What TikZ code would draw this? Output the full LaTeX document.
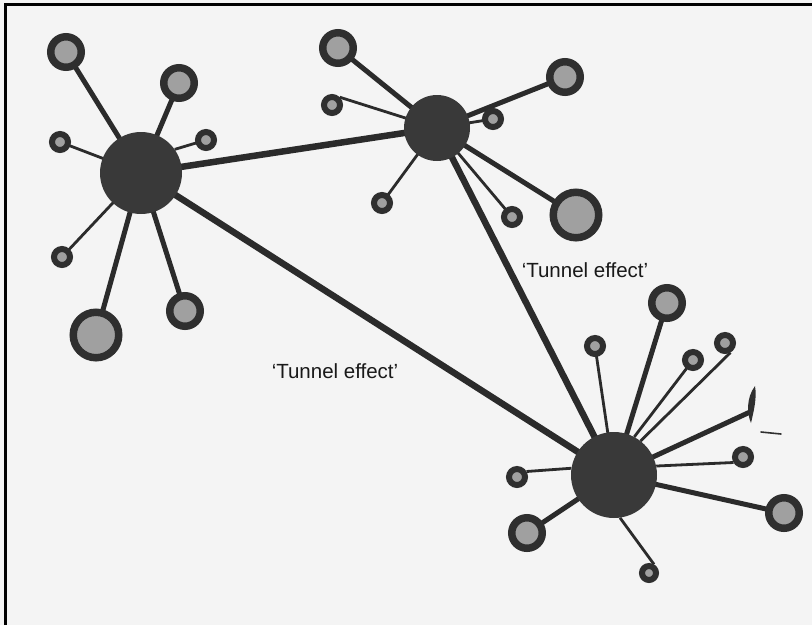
\documentclass[tikz,border=0pt]{standalone}
\usepackage{fontspec}
\setmainfont{Liberation Sans}
\pgfdeclarelayer{bg}
\pgfdeclarelayer{spokes}
\pgfsetlayers{bg,spokes,main}
\definecolor{paper}{HTML}{F4F4F4}
\definecolor{hubc}{HTML}{393939}
\definecolor{ringc}{HTML}{2F2F2F}
\definecolor{dotc}{HTML}{A0A0A0}
\definecolor{linec}{HTML}{2B2B2B}
\tikzset{
  hub/.style={circle, fill=hubc, draw=none, inner sep=0pt, minimum size=#1},
  satbig/.style={circle, draw=ringc, fill=dotc, line width=7.5pt, inner sep=0pt, minimum size=30.5pt},
  satlarge/.style={circle, draw=ringc, fill=dotc, line width=7.5pt, inner sep=0pt, minimum size=45.5pt},
  satsmall/.style={circle, draw=ringc, fill=dotc, line width=6pt, inner sep=0pt, minimum size=16pt},
  tunnel/.style={draw=linec, line width=6.5pt},
  medspoke/.style={draw=linec, line width=5pt},
  thinspoke/.style={draw=linec, line width=2.8pt},
  lbl/.style={font=\fontsize{20.5}{24}\selectfont, text=black!90, inner sep=0pt}
}
\begin{document}
\begin{tikzpicture}[x=1pt,y=-1pt]
\begin{pgfonlayer}{bg}
\fill[paper] (0,0) rectangle (812,625);
\useasboundingbox (0,0) rectangle (812,625);
\draw[line width=3pt, black] (5,625) -- (5,4) -- (812,4);
\end{pgfonlayer}

% hubs
\node[hub=82pt] (A) at (141,173) {};
\node[hub=66pt] (B) at (437,128) {};
\node[hub=86pt] (C) at (614,475) {};

% satellites of A
\node[satbig] (a1) at (66,52) {};
\node[satbig] (a2) at (179,83) {};
\node[satsmall] (a3) at (60,142) {};
\node[satsmall] (a4) at (206,140) {};
\node[satsmall] (a5) at (62,257) {};
\node[satlarge] (a6) at (96,335) {};
\node[satbig] (a7) at (185,311) {};

% satellites of B
\node[satbig] (b1) at (338,48) {};
\node[satsmall] (b2) at (332,105) {};
\node[satbig] (b3) at (565,77) {};
\node[satsmall] (b4) at (493,119) {};
\node[satsmall] (b5) at (382,203) {};
\node[satsmall] (b6) at (512,217) {};
\node[satlarge] (b7) at (576,215) {};

% satellites of C
\node[satbig] (c1) at (667,303) {};
\node[satsmall] (c2) at (595,346) {};
\node[satsmall] (c3) at (693,360) {};
\node[satsmall] (c4) at (725,343) {};
\coordinate (c5) at (750,412);
\node[satsmall] (c6) at (743,457) {};
\node[satbig] (c7) at (784,513) {};
\node[satsmall] (c8) at (517,477) {};
\node[satbig] (c9) at (527,533) {};
\node[satsmall, minimum size=14pt] (c10) at (649,573) {};

\begin{pgfonlayer}{spokes}
% tunnels
\draw[tunnel] (A.center) -- (B.center);
\draw[tunnel] (A.center) -- (C.center);
\draw[tunnel] (B.center) -- (C.center);
% A spokes
\draw[medspoke] (A.center) -- (a1.center);
\draw[medspoke] (A.center) -- (a2.center);
\draw[thinspoke] (A.center) -- (a3.center);
\draw[thinspoke] (A.35) -- (a4.center);
\draw[thinspoke] (A.center) -- (a5.center);
\draw[medspoke] (A.center) -- (a6.center);
\draw[medspoke] (A.center) -- (a7.center);
% B spokes
\draw[medspoke] (B.center) -- (b1.center);
\draw[thinspoke] (b2.45) -- (B.center);
\draw[medspoke] (B.center) -- (b3.center);
\draw[thinspoke] (B.center) -- (b4.center);
\draw[thinspoke] (B.center) -- (b5.center);
\draw[thinspoke] (B.center) -- (b6.center);
\draw[medspoke] (B.center) -- (b7.center);
% C spokes
\draw[medspoke] (C.center) -- (c1.center);
\draw[thinspoke] (C.center) -- (c2.center);
\draw[thinspoke] (C.62) -- (c3.center);
\draw[thinspoke] (C.52) -- (c4.300);
\draw[medspoke] (C.center) -- (c5);
\draw[thinspoke] (C.12) -- (c6.210);
\draw[medspoke] (C.center) -- (c7.center);
\draw[thinspoke] (C.171) -- (c8.30);
\draw[medspoke] (C.center) -- (c9.center);
\draw[thinspoke] (C.-82) -- (c10.60);
\end{pgfonlayer}

% cut-off satellite at the right and stray mark
\fill[ringc] (755,386) .. controls (746,398) and (747,414) .. (751,423) .. controls (754,410) and (757,398) .. (755,386);
\draw[ringc, line width=1.6pt, line cap=round] (761,432) -- (781,434);

% labels
\node[lbl] (t1) at (335,371) {‘Tunnel effect’};
\node[lbl] (t2) at (585,270) {‘Tunnel effect’};
\end{tikzpicture}
\end{document}
